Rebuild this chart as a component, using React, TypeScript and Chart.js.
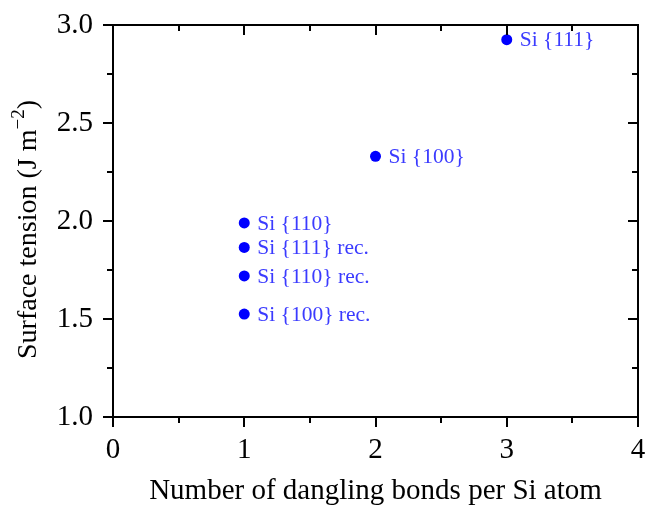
import React, { useEffect, useRef } from "react";
import { Chart, registerables } from "chart.js";

Chart.register(...registerables);

const danglingBonds = [3, 2, 1, 1, 1, 1];
const surfaceTension = [2.925, 2.33, 1.99, 1.865, 1.72, 1.525];
const pointLabels = ["Si {111}", "Si {100}", "Si {110}", "Si {111} rec.", "Si {110} rec.", "Si {100} rec."];
const xMajorTicks = [0, 1, 2, 3, 4];
const xMinorTicks = [0.5, 1.5, 2.5, 3.5];
const yMajorTicks = [1.0, 1.5, 2.0, 2.5, 3.0];
const yMinorTicks = [1.25, 1.75, 2.25, 2.75];

const W = 645;
const H = 509;
const SERIF = "'Liberation Serif', 'Times New Roman', serif";

const framePlugin = {
  id: "framePlugin",
  beforeDraw(chart: any) {
    const { ctx } = chart;
    ctx.save();
    ctx.fillStyle = "#ffffff";
    ctx.fillRect(0, 0, chart.width, chart.height);
    ctx.restore();
  },
  afterDraw(chart: any) {
    const { ctx, chartArea, scales } = chart;
    const { left, right, top, bottom } = chartArea;
    const xs = scales.x;
    const ys = scales.y;
    ctx.save();
    ctx.strokeStyle = "#000";
    ctx.lineWidth = 2;
    ctx.strokeRect(left, top, right - left, bottom - top);
    const MAJ = 10;
    const MIN = 6;
    ctx.beginPath();
    const xt = (v: number, len: number) => {
      const px = Math.round(xs.getPixelForValue(v));
      ctx.moveTo(px, bottom);
      ctx.lineTo(px, bottom + len);
      ctx.moveTo(px, top);
      ctx.lineTo(px, top + len);
    };
    const yt = (v: number, len: number) => {
      const py = Math.round(ys.getPixelForValue(v));
      ctx.moveTo(left - len, py);
      ctx.lineTo(left, py);
      ctx.moveTo(right - len, py);
      ctx.lineTo(right, py);
    };
    xMajorTicks.forEach((v) => xt(v, MAJ));
    xMinorTicks.forEach((v) => xt(v, MIN));
    yMajorTicks.forEach((v) => yt(v, MAJ));
    yMinorTicks.forEach((v) => yt(v, MIN));
    ctx.stroke();

    // point labels
    ctx.fillStyle = "#3b3bff";
    ctx.font = `21.5px ${SERIF}`;
    ctx.textAlign = "left";
    ctx.textBaseline = "middle";
    pointLabels.forEach((t, i) => {
      const px = xs.getPixelForValue(danglingBonds[i]);
      const py = ys.getPixelForValue(surfaceTension[i]);
      ctx.fillText(t, px + 13, py + 1);
    });

    // y axis title with superscript
    const mainFont = `28px ${SERIF}`;
    const supFont = `19px ${SERIF}`;
    const p1 = "Surface tension (J m";
    const p2 = "\u22122";
    const p3 = ")";
    ctx.font = mainFont;
    const w1 = ctx.measureText(p1).width;
    const w3 = ctx.measureText(p3).width;
    ctx.font = supFont;
    const w2 = ctx.measureText(p2).width;
    const total = w1 + w2 + w3;
    const cy = (top + bottom) / 2 + 8.5;
    ctx.translate(36, cy);
    ctx.rotate(-Math.PI / 2);
    ctx.fillStyle = "#000";
    ctx.textBaseline = "alphabetic";
    ctx.textAlign = "left";
    let x0 = -total / 2;
    ctx.font = mainFont;
    ctx.fillText(p1, x0, 0);
    x0 += w1;
    ctx.font = supFont;
    ctx.fillText(p2, x0, -12);
    x0 += w2;
    ctx.font = mainFont;
    ctx.fillText(p3, x0, 0);
    ctx.restore();
  },
};

export default function App() {
  const ref = useRef<HTMLCanvasElement>(null);
  useEffect(() => {
    if (!ref.current) return;
    const chart = new Chart(ref.current, {
      type: "scatter",
      data: {
        datasets: [
          {
            data: danglingBonds.map((x, i) => ({ x, y: surfaceTension[i] })),
            backgroundColor: "#0000ff",
            borderColor: "#0000ff",
            pointRadius: 5.5,
            pointHoverRadius: 5.5,
            borderWidth: 0,
          },
        ],
      },
      options: {
        responsive: false,
        animation: false,
        devicePixelRatio: 1,
        layout: { padding: { left: 0, top: 25, right: 7, bottom: 0 } },
        plugins: { legend: { display: false }, tooltip: { enabled: false } },
        scales: {
          x: {
            type: "linear",
            min: 0,
            max: 4,
            afterBuildTicks: (s: any) => {
              s.ticks = xMajorTicks.map((v) => ({ value: v }));
            },
            afterFit: (s: any) => {
              s.height = 92;
              s.paddingLeft = 0;
              s.paddingRight = 0;
            },
            grid: { display: false, drawTicks: false },
            border: { display: false },
            ticks: {
              padding: 16,
              color: "#000",
              font: { family: SERIF, size: 29 },
              maxRotation: 0,
              callback: (v: any) => String(v),
            },
            title: {
              display: true,
              text: "Number of dangling bonds per Si atom",
              color: "#000",
              font: { family: SERIF, size: 29 },
              padding: { top: 0, bottom: 0 },
            },
          },
          y: {
            type: "linear",
            min: 1,
            max: 3,
            afterBuildTicks: (s: any) => {
              s.ticks = yMajorTicks.map((v) => ({ value: v }));
            },
            afterFit: (s: any) => {
              s.width = 113;
              s.paddingTop = 0;
              s.paddingBottom = 0;
            },
            grid: { display: false, drawTicks: false },
            border: { display: false },
            ticks: {
              padding: 20,
              color: "#000",
              font: { family: SERIF, size: 29 },
              callback: (v: any) => Number(v).toFixed(1),
            },
          },
        },
      },
      plugins: [framePlugin],
    });
    return () => chart.destroy();
  }, []);
  return (
    <div style={{ position: "absolute", left: 0, top: 0, width: W, height: H }}>
      <canvas ref={ref} width={W} height={H} style={{ width: W, height: H }} />
    </div>
  );
}
